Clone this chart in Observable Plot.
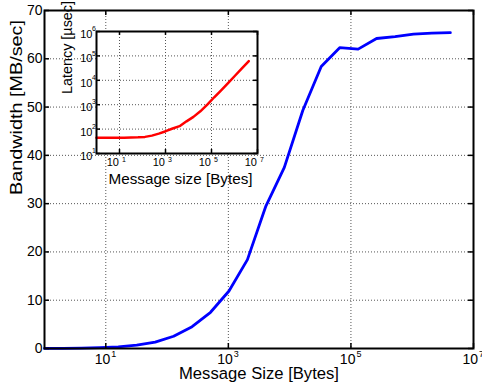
<!DOCTYPE html>
<html><head><meta charset="utf-8">
<script src="https://cdn.jsdelivr.net/npm/d3@7"></script>
<script src="https://cdn.jsdelivr.net/npm/@observablehq/plot@0.6"></script>
<style>
html,body{margin:0;padding:0;background:#fff;}
#wrap{position:relative;width:482px;height:390px;}
#wrap svg{position:absolute;left:0;top:0;}
</style></head><body><div id="wrap"></div>
<script>
// Message sizes in bytes
const messageSizes = [1, 2, 4, 8, 16, 32, 64, 128, 256, 512, 1024, 2048, 4096, 8192, 16384, 32768, 65536, 131072, 262144, 524288, 1048576, 2097152, 4194304];
// Bandwidth [MB/sec]
const bandwidth = [0.022, 0.043, 0.087, 0.173, 0.343, 0.678, 1.33, 2.54, 4.52, 7.5, 11.9, 18.4, 29.5, 37.5, 49.3, 58.4, 62.3, 62.0, 64.2, 64.6, 65.1, 65.3, 65.4];
// Latency [usec]
const latency = [44, 44, 44, 44, 44.5, 45, 46, 48, 54, 65, 82, 106, 132, 208, 317, 535, 1003, 2016, 3894, 7740, 15360, 30600, 61200];

const mainXTicks = [1e1, 1e3, 1e5, 1e7];
const mainXExp = ["1", "3", "5", "7"];
const mainYTicks = [0, 10, 20, 30, 40, 50, 60, 70];
const insetXTicks = [1e1, 1e3, 1e5, 1e7];
const insetXExp = ["1", "3", "5", "7"];
const insetYTicks = [1e1, 1e2, 1e3, 1e4, 1e5, 1e6];
const insetYExp = ["1", "2", "3", "4", "5", "6"];

const mainXLabel = "Message Size [Bytes]";
const mainYLabel = "Bandwidth [MB/sec]";
const insetXLabel = "Message size [Bytes]";
const insetYLabel = "Latency [µsec]";

const font = "'Liberation Sans', Arial, Helvetica, sans-serif";
const data = messageSizes.map((s, i) => ({size: s, bw: bandwidth[i], lat: latency[i]}));
const grid = {stroke: "#555", strokeDasharray: "1,2", strokeWidth: 1};

const W = 482, H = 390;
const mL = 44, mR = 9, mT = 10, mB = 42;
const pw = W - mL - mR, ph = H - mT - mB;

const main = Plot.plot({
  width: W, height: H,
  marginLeft: mL, marginRight: mR, marginTop: mT, marginBottom: mB,
  style: {fontFamily: font, background: "transparent", overflow: "visible"},
  x: {type: "log", domain: [1, 1e7], axis: null},
  y: {domain: [0, 70], axis: null},
  marks: [
    Plot.ruleX(mainXTicks.slice(0, 3), {x: d => d, ...grid}),
    Plot.ruleY(mainYTicks.slice(1, 7), {y: d => d, ...grid}),
    Plot.line(data, {x: "size", y: "bw", stroke: "#0000ff", strokeWidth: 2.8}),
    Plot.ruleX(mainXTicks, {x: d => d, insetTop: ph - 5, stroke: "black", strokeWidth: 1.5}),
    Plot.ruleX(mainXTicks, {x: d => d, insetBottom: ph - 5, stroke: "black", strokeWidth: 1.5}),
    Plot.ruleY(mainYTicks, {y: d => d, insetRight: pw - 5, stroke: "black", strokeWidth: 1.5}),
    Plot.ruleY(mainYTicks, {y: d => d, insetLeft: pw - 5, stroke: "black", strokeWidth: 1.5}),
    Plot.frame({stroke: "black", strokeWidth: 2}),
    Plot.text(mainYTicks, {y: d => d, frameAnchor: "left", textAnchor: "end", dx: -2, text: d => String(d), fontSize: 14}),
    Plot.text(mainXTicks, {x: d => d, frameAnchor: "bottom", textAnchor: "end", dx: 4.5, dy: 15, text: () => "10", fontSize: 14}),
    Plot.text(mainXTicks, {x: d => d, frameAnchor: "bottom", textAnchor: "start", dx: 5.5, dy: 8, text: (d, i) => mainXExp[i], fontSize: 9}),
    Plot.text([mainXLabel], {frameAnchor: "bottom", dy: 30, text: d => d, fontSize: 16.8}),
    Plot.text([mainYLabel], {frameAnchor: "left", dx: -28, dy: 15.5, rotate: -90, text: d => d, fontSize: 17})
  ]
});

const iL = 96, iR = W - 257, iT = 31, iB = H - 153;
const ipw = W - iL - iR, iph = H - iT - iB;
const inset = Plot.plot({
  width: W, height: H,
  marginLeft: iL, marginRight: iR, marginTop: iT, marginBottom: iB,
  style: {fontFamily: font, background: "transparent", overflow: "visible"},
  x: {type: "log", domain: [1, 1e7], axis: null},
  y: {type: "log", domain: [1e1, 1e6], axis: null},
  marks: [
    Plot.frame({fill: "white"}),
    Plot.ruleX(insetXTicks.slice(0, 3), {x: d => d, ...grid}),
    Plot.ruleY(insetYTicks.slice(1, 5), {y: d => d, ...grid}),
    Plot.line(data, {x: "size", y: "lat", stroke: "#ff0000", strokeWidth: 2.5}),
    Plot.ruleX(insetXTicks, {x: d => d, insetTop: iph - 4, stroke: "black", strokeWidth: 1.5}),
    Plot.ruleX(insetXTicks, {x: d => d, insetBottom: iph - 4, stroke: "black", strokeWidth: 1.5}),
    Plot.ruleY(insetYTicks, {y: d => d, insetRight: ipw - 4, stroke: "black", strokeWidth: 1.5}),
    Plot.ruleY(insetYTicks, {y: d => d, insetLeft: ipw - 4, stroke: "black", strokeWidth: 1.5}),
    Plot.frame({stroke: "black", strokeWidth: 2}),
    Plot.text(insetYTicks, {y: d => d, frameAnchor: "left", textAnchor: "end", dx: -4, dy: 3, text: () => "10", fontSize: 11}),
    Plot.text(insetYTicks, {y: d => d, frameAnchor: "left", textAnchor: "end", dx: -0.5, dy: -2.5, text: (d, i) => insetYExp[i], fontSize: 7}),
    Plot.text(insetXTicks, {x: d => d, frameAnchor: "bottom", textAnchor: "end", dx: -0.5, dy: 12.5, text: () => "10", fontSize: 11}),
    Plot.text(insetXTicks, {x: d => d, frameAnchor: "bottom", textAnchor: "start", dx: 2.5, dy: 8.5, text: (d, i) => insetXExp[i], fontSize: 7}),
    Plot.text([insetXLabel], {frameAnchor: "bottom", dx: 3.5, dy: 30, text: d => d, fontSize: 14.5}),
    Plot.text([insetYLabel], {frameAnchor: "left", dx: -29, dy: 1.5, rotate: -90, text: d => d, fontSize: 14})
  ]
});

const wrap = document.getElementById("wrap");
wrap.appendChild(main);
wrap.appendChild(inset);

// Fit axis titles to the lengths they have in the reference
const fitLengths = new Map([[mainXLabel, 160], [mainYLabel, 175], [insetXLabel, 144], [insetYLabel, 93]]);
d3.select(wrap).selectAll("text").each(function() {
  const t = this.textContent;
  if (fitLengths.has(t)) {
    this.setAttribute("textLength", fitLengths.get(t));
    this.setAttribute("lengthAdjust", "spacingAndGlyphs");
  }
});
</script>
</body></html>
